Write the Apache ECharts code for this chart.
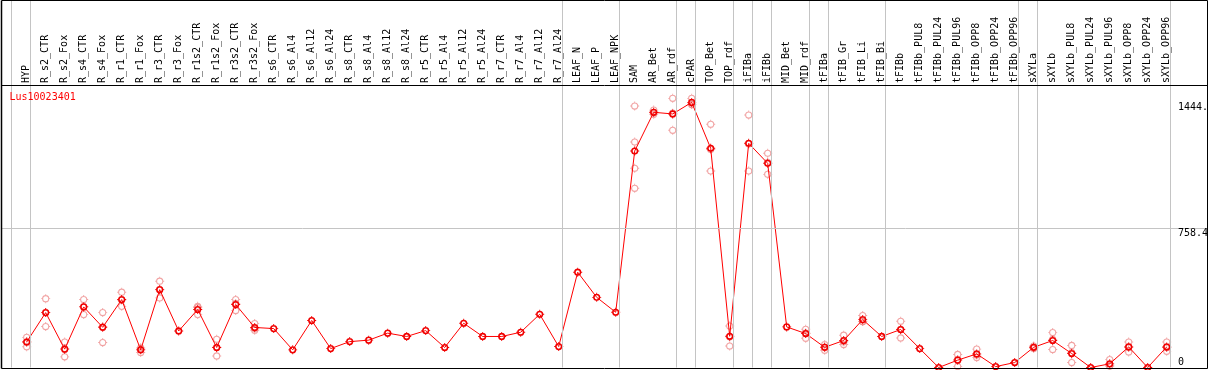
<!DOCTYPE html>
<html>
<head>
<meta charset="utf-8">
<script src="https://cdn.jsdelivr.net/npm/echarts@6/dist/echarts.min.js"></script>
<style>
  html, body { margin: 0; padding: 0; background: #ffffff; }
  #chart { width: 1209px; height: 370px; }
</style>
</head>
<body>
<div id="chart"></div>
<script>
// ---------------- data ----------------
const geneLabel = 'Lus10023401';

const categories = [
  'HYP', 'R_s2_CTR', 'R_s2_Fox', 'R_s4_CTR', 'R_s4_Fox', 'R_r1_CTR', 'R_r1_Fox',
  'R_r3_CTR', 'R_r3_Fox', 'R_r1s2_CTR', 'R_r1s2_Fox', 'R_r3s2_CTR', 'R_r3s2_Fox',
  'R_s6_CTR', 'R_s6_Al4', 'R_s6_Al12', 'R_s6_Al24', 'R_s8_CTR', 'R_s8_Al4',
  'R_s8_Al12', 'R_s8_Al24', 'R_r5_CTR', 'R_r5_Al4', 'R_r5_Al12', 'R_r5_Al24',
  'R_r7_CTR', 'R_r7_Al4', 'R_r7_Al12', 'R_r7_Al24', 'LEAF_N', 'LEAF_P', 'LEAF_NPK',
  'SAM', 'AR_Bet', 'AR_rdf', 'cPAR', 'TOP_Bet', 'TOP_rdf', 'iFIBa', 'iFIBb',
  'MID_Bet', 'MID_rdf', 'tFIBa', 'tFIB_Gr', 'tFIB_Li', 'tFIB_Bi', 'tFIBb',
  'tFIBb_PUL8', 'tFIBb_PUL24', 'tFIBb_PUL96', 'tFIBb_OPP8', 'tFIBb_OPP24', 'tFIBb_OPP96',
  'sXYLa', 'sXYLb', 'sXYLb_PUL8', 'sXYLb_PUL24', 'sXYLb_PUL96', 'sXYLb_OPP8',
  'sXYLb_OPP24', 'sXYLb_OPP96'
];

const meanValues = [
  139, 299, 100, 330, 219, 370, 96,
  424, 199, 316, 109, 343, 218,
  212, 96, 256, 103, 141, 149,
  187, 169, 201, 109, 241, 169,
  169, 192, 290, 114, 519, 382, 301,
  1179, 1390, 1381, 1444, 1194, 170, 1221, 1112,
  221, 185, 110, 147, 261, 169, 207,
  103, 0, 40, 74, 5, 27,
  110, 147, 76, 0, 20, 112,
  0, 112
];

const rep1 = [
  164, 375, 139, 370, 299, 410, 107,
  470, null, 333, 154, 370, 239,
  null, null, null, null, null, null,
  null, null, null, null, null, null,
  null, null, null, null, null, null, null,
  1424, 1402, 1466, 1466, 1325, 226, 1375, 1167,
  null, 208, 125, 176, 283, null, 252,
  null, null, 71, 100, null, null,
  117, 190, 120, null, 43, 139,
  null, 139
];

const rep2 = [
  140, 223, 58, 288, 136, 333, 82,
  379, null, 288, 63, 310, 203,
  null, null, null, null, null, null,
  null, null, null, null, null, null,
  null, null, null, null, null, null, null,
  1228, 1379, 1292, 1432, 1070, 117, 1070, 1052,
  null, 159, 94, 125, 250, null, 161,
  null, null, 5, 54, null, null,
  104, 98, 27, null, 8, 85,
  null, 88
];

const rep3 = [
  113, 299, 103, 332, 222, 367, 99,
  423, null, 327, 110, 349, 212,
  null, null, null, null, null, null,
  null, null, null, null, null, null,
  null, null, null, null, null, null, null,
  1085, 1389, 1385, 1434, 1187, 167, 1218, 1117,
  null, 188, 111, 140, 250, null, 208,
  null, null, 44, 68, null, null,
  110, 153, 81, null, 9, 112,
  null, 109
];

const rep4 = categories.map(function (c) { return c === 'SAM' ? 976 : null; });

// last category index of each group (separator drawn just after it)
const groupEnds = [-1, 0, 28, 31, 34, 35, 37, 38, 39, 41, 42, 45, 52, 53, 60];
const gridLineValues = [758.4];
const tickValues = [0, 758.4, 1444];
const tickLabels = ['0', '758.4', '1444.'];

// ---------------- layout ----------------
const FONT = 'DejaVu Sans Mono';
const colPx = 19;          // pixel spacing between categories
const firstColPx = 26.7;   // pixel x of first category
const plotLeft = 1, plotRight = 1207;
const zeroPx = 367.5;      // pixel y of value 0
const pxPerUnit = 0.1836;  // pixels per unit of value
const sepOffset = 0.2;     // separator offset after a column (in columns)

const xMin = (plotLeft - firstColPx) / colPx;
const xMax = (plotRight - firstColPx) / colPx;
const yMax = zeroPx / pxPerUnit;

// ring symbols (hollow circle with small nubs), filled with the item colour
function ringPath(inner) {
  const a = 5 - inner, b = 5 + inner;
  return 'path://M1,5A4,4,0,1,1,9,5A4,4,0,1,1,1,5Z' +
    'M' + a + ',5A' + inner + ',' + inner + ',0,1,0,' + b + ',5A' + inner + ',' + inner + ',0,1,0,' + a + ',5Z' +
    'M4.5,0L5.5,0L5.5,1.2L4.5,1.2Z M4.5,8.8L5.5,8.8L5.5,10L4.5,10Z' +
    'M0,4.5L1.2,4.5L1.2,5.5L0,5.5Z M8.8,4.5L10,4.5L10,5.5L8.8,5.5Z';
}
const meanSymbol = ringPath(2.3);
const repSymbol = ringPath(2.8);

function toPoints(arr) {
  const out = [];
  arr.forEach(function (v, i) { if (v !== null && v !== undefined) out.push([i, v]); });
  return out;
}
const repPoints = [].concat(toPoints(rep1), toPoints(rep2), toPoints(rep3), toPoints(rep4));
const meanPoints = toPoints(meanValues);

const sepLines = groupEnds.map(function (g) { return { xAxis: g + sepOffset }; })
  .concat(gridLineValues.map(function (v) { return { yAxis: v }; }));

const chart = echarts.init(document.getElementById('chart'), null, { renderer: 'canvas' });

const option = {
  animation: false,
  backgroundColor: '#ffffff',
  grid: [
    { left: plotLeft, top: 0, width: plotRight - plotLeft, height: zeroPx,
      containLabel: false, outerBoundsMode: 'none' },
    { left: firstColPx - colPx / 2, top: 85, width: colPx * categories.length, height: 1,
      containLabel: false, outerBoundsMode: 'none' }
  ],
  xAxis: [
    { type: 'value', gridIndex: 0, min: xMin, max: xMax, show: false },
    { type: 'category', gridIndex: 1, data: categories, position: 'top', boundaryGap: true,
      axisLine: { show: false }, axisTick: { show: false }, splitLine: { show: false },
      axisLabel: { interval: 0, rotate: 90, margin: 2, fontFamily: FONT, fontSize: 10, color: '#000000' } }
  ],
  yAxis: [
    { type: 'value', gridIndex: 0, min: 0, max: yMax, show: false },
    { type: 'value', gridIndex: 1, show: false }
  ],
  series: [
    {
      name: 'separators', type: 'line', xAxisIndex: 0, yAxisIndex: 0, data: [], z: 1,
      silent: true,
      markLine: {
        silent: true, symbol: 'none', label: { show: false }, animation: false,
        lineStyle: { color: '#c4c4c4', width: 1, type: 'solid' },
        emphasis: { disabled: true },
        data: sepLines
      }
    },
    {
      name: 'replicates', type: 'scatter', xAxisIndex: 0, yAxisIndex: 0, z: 2,
      data: repPoints, symbol: repSymbol, symbolSize: 9, silent: true,
      itemStyle: { color: '#ee8c8c', borderWidth: 0 }
    },
    {
      name: 'mean', type: 'line', xAxisIndex: 0, yAxisIndex: 0, z: 3,
      data: meanPoints, symbol: meanSymbol, symbolSize: 9, showSymbol: true, showAllSymbol: true,
      silent: true, clip: false,
      lineStyle: { color: '#ff0000', width: 1 },
      itemStyle: { color: '#f00000', borderWidth: 0 }
    }
  ]
};
chart.setOption(option);

// frame, gene label and value labels
const graphics = [
  { type: 'line', shape: { x1: 1.5, y1: 0.5, x2: 1207.5, y2: 0.5 }, style: { stroke: '#000', lineWidth: 1 }, z: 10 },
  { type: 'line', shape: { x1: 1.5, y1: 85.5, x2: 1207.5, y2: 85.5 }, style: { stroke: '#000', lineWidth: 1 }, z: 10 },
  { type: 'line', shape: { x1: 1.5, y1: 368.5, x2: 1207.5, y2: 368.5 }, style: { stroke: '#000', lineWidth: 1 }, z: 10 },
  { type: 'line', shape: { x1: 1.5, y1: 0.5, x2: 1.5, y2: 368.5 }, style: { stroke: '#000', lineWidth: 1.5 }, z: 10 },
  { type: 'line', shape: { x1: 1207.5, y1: 0.5, x2: 1207.5, y2: 368.5 }, style: { stroke: '#000', lineWidth: 1 }, z: 10 },
  { type: 'text', x: 9.5, y: 92, z: 10,
    style: { text: geneLabel, fill: '#ff0000', font: '10px "' + FONT + '"', textAlign: 'left', textVerticalAlign: 'top' } }
];
tickValues.forEach(function (v, k) {
  const p = chart.convertToPixel({ xAxisIndex: 0, yAxisIndex: 0 }, [0, v]);
  graphics.push({
    type: 'text', x: 1178, y: p[1], z: 10,
    style: { text: tickLabels[k], fill: '#000000', font: '10px "' + FONT + '"',
      textAlign: 'left', textVerticalAlign: v === 0 ? 'bottom' : 'top' }
  });
});
chart.setOption({ graphic: graphics });
</script>
</body>
</html>
